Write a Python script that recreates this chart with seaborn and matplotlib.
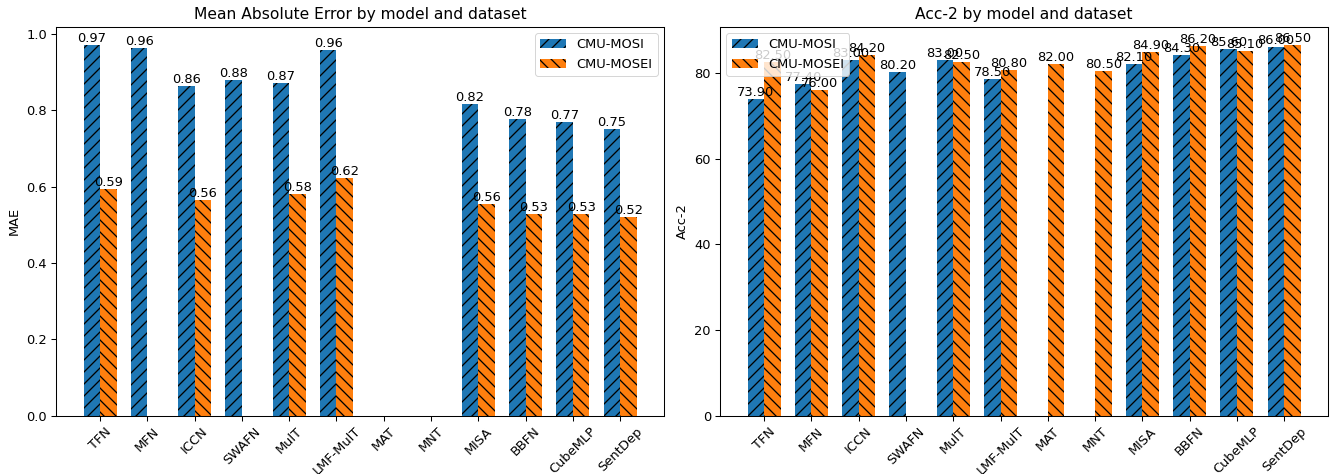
import numpy as np
import pandas as pd
import matplotlib
matplotlib.use("Agg")
import matplotlib.pyplot as plt
import seaborn as sns
from matplotlib.patches import Patch

models = ["TFN", "MFN", "ICCN", "SWAFN", "MulT", "LMF-MulT", "MAT", "MNT",
          "MISA", "BBFN", "CubeMLP", "SentDep"]
datasets = ["CMU-MOSI", "CMU-MOSEI"]

mae_mosi = [0.970, 0.964, 0.862, 0.880, 0.871, 0.957, np.nan, np.nan,
            0.817, 0.776, 0.770, 0.750]
mae_mosei = [0.593, np.nan, 0.565, np.nan, 0.580, 0.623, np.nan, np.nan,
             0.555, 0.529, 0.529, 0.520]
acc_mosi = [73.9, 77.4, 83.0, 80.2, 83.0, 78.5, np.nan, np.nan,
            82.1, 84.3, 85.6, 86.0]
acc_mosei = [82.5, 76.0, 84.2, np.nan, 82.5, 80.8, 82.0, 80.5,
             84.9, 86.2, 85.1, 86.5]

colors = ["#1f77b4", "#ff7f0e"]
hatches = ["//", "\\\\"]


def long_df(a, b):
    return pd.DataFrame({
        "model": models * 2,
        "dataset": [datasets[0]] * len(models) + [datasets[1]] * len(models),
        "value": list(a) + list(b),
    })


# figure rendered at 72 dpi; all sizes scaled to look like ~93 dpi
k = 93.3 / 72.0
plt.rcParams.update({
    "font.family": ["DejaVu Sans"],
    "font.size": 10 * k,
    "axes.linewidth": 0.8 * k,
    "xtick.major.size": 3.5 * k,
    "ytick.major.size": 3.5 * k,
    "xtick.major.width": 0.8 * k,
    "ytick.major.width": 0.8 * k,
    "xtick.major.pad": 3.5 * k,
    "ytick.major.pad": 3.5 * k,
    "axes.titlepad": 6.0 * k,
    "axes.labelpad": 4.0 * k,
    "hatch.linewidth": 1.0 * k,
    "legend.fontsize": 10 * k,
})

fig = plt.figure(figsize=(1339 / 72, 474 / 72), dpi=72)
ax1 = fig.add_axes([0.0418, 0.123, 0.4543, 0.8207])
ax2 = fig.add_axes([0.5377, 0.123, 0.4543, 0.8207])

panels = [
    (ax1, long_df(mae_mosi, mae_mosei), "Mean Absolute Error by model and dataset", "MAE", "upper right"),
    (ax2, long_df(acc_mosi, acc_mosei), "Acc-2 by model and dataset", "Acc-2", "upper left"),
]

for ax, df, title, ylab, loc in panels:
    sns.barplot(data=df, x="model", y="value", hue="dataset", order=models,
                hue_order=datasets, palette=colors, saturation=1, width=0.7,
                errorbar=None, legend=False, ax=ax)
    for cont, h in zip(ax.containers, hatches):
        for p in cont:
            p.set_edgecolor("black")
            p.set_linewidth(0)
            p.set_hatch(h)
        ax.bar_label(cont, fmt="%.2f", fontsize=10 * k)
    vmax = np.nanmax(df["value"].values)
    ax.set_ylim(0, vmax * 1.05)
    ax.set_xlim(-0.935, len(models) - 1 + 0.935)
    ax.set_title(title, fontsize=12 * k)
    ax.set_ylabel(ylab, fontsize=10 * k)
    ax.set_xlabel("")
    ax.tick_params(axis="x", rotation=45)
    handles = [Patch(facecolor=c, edgecolor="black", hatch=h, label=d)
               for c, h, d in zip(colors, hatches, datasets)]
    for hd in handles:
        hd.set_linewidth(0)
    ax.legend(handles=handles, loc=loc)

fig.savefig("out.png", dpi=72)
